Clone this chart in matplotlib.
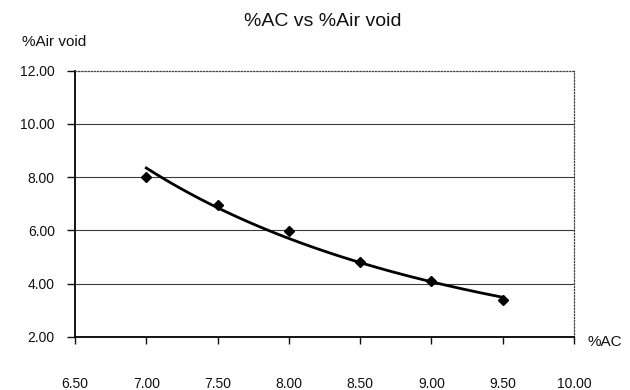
import numpy as np
import matplotlib
matplotlib.use("Agg")
import matplotlib.pyplot as plt
from matplotlib.ticker import FormatStrFormatter

plt.rcParams['font.family'] = ['Liberation Sans', 'DejaVu Sans']

# Asphalt content (%) vs air voids (%)
ac_pct = [7.0, 7.5, 8.0, 8.5, 9.0, 9.5]
air_void_pct = [8.00, 6.96, 5.98, 4.79, 4.10, 3.37]

x_ticks = [6.5, 7.0, 7.5, 8.0, 8.5, 9.0, 9.5, 10.0]
y_ticks = [2.0, 4.0, 6.0, 8.0, 10.0, 12.0]

title = "%AC vs %Air void"
y_label = "%Air void"
x_label = "%AC"

# Power-law trend line  y = a * x^b  fitted in log-log space
x = np.asarray(ac_pct)
y = np.asarray(air_void_pct)
b, ln_a = np.polyfit(np.log(x), np.log(y), 1)
x_fit = np.linspace(x.min(), x.max(), 200)
y_fit = np.exp(ln_a) * x_fit ** b

fig = plt.figure(figsize=(6.3, 3.9), dpi=100)
ax = fig.add_axes([75 / 630, 1 - 336.7 / 390, (574 - 75) / 630, (336.7 - 70.7) / 390])

ax.plot(x_fit, y_fit, color='black', lw=2.0, zorder=3)
ax.plot(x, y, linestyle='none', marker='D', markersize=5.5,
        color='black', zorder=4)

ax.set_xlim(x_ticks[0], x_ticks[-1])
ax.set_ylim(y_ticks[0], y_ticks[-1])
ax.set_xticks(x_ticks)
ax.set_yticks(y_ticks)
ax.xaxis.set_major_formatter(FormatStrFormatter('%.2f'))
ax.yaxis.set_major_formatter(FormatStrFormatter('%.2f'))

ax.tick_params(axis='x', direction='out', length=5, width=1.0, pad=24,
               labelsize=10, colors='#111111')
ax.tick_params(axis='y', direction='out', length=6, width=1.0, pad=8.5,
               labelsize=10, colors='#111111')

ax.grid(axis='y', color='#3a3a3a', lw=0.8)
grid_lines = ax.get_ygridlines()
grid_lines[0].set_visible(False)
grid_lines[-1].set_visible(False)

for side in ('left', 'bottom'):
    ax.spines[side].set_color('black')
    ax.spines[side].set_linewidth(1.3)
for side in ('top', 'right'):
    ax.spines[side].set_color('#444444')
    ax.spines[side].set_linewidth(0.9)
    ax.spines[side].set_linestyle((0, (1, 1.5)))

fig.text(323 / 630, 1 - 22 / 390, title, ha='center', va='center',
         fontsize=14, color='#111111')
fig.text(22 / 630, 1 - 42 / 390, y_label, ha='left', va='center',
         fontsize=11, color='#111111')
fig.text(588 / 630, 1 - 342 / 390, x_label, ha='left', va='center',
         fontsize=11, color='#111111')

fig.savefig("out.png", dpi=100, facecolor='white')
